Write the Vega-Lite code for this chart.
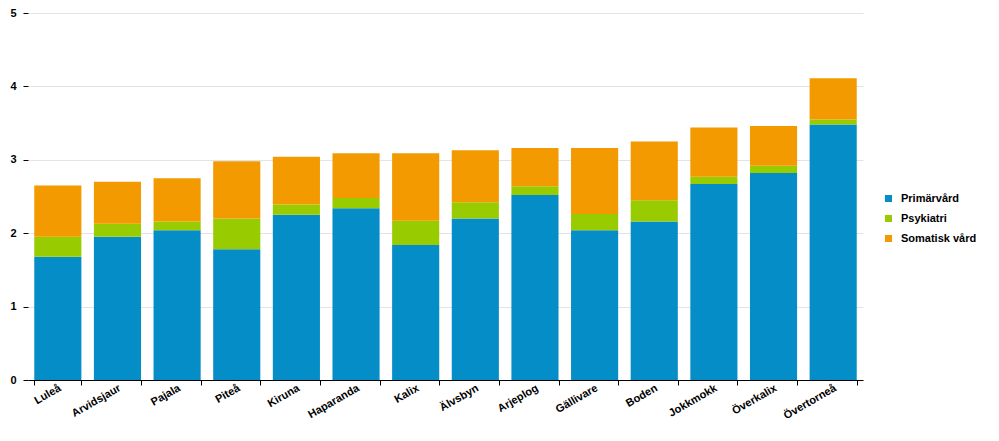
{
  "$schema": "https://vega.github.io/schema/vega-lite/v6.json",
  "width": 835,
  "height": 367,
  "autosize": {"type": "none"},
  "padding": {"left": 28, "top": 13, "right": 136, "bottom": 61},
  "background": "#ffffff",
  "config": {
    "view": {"stroke": null},
    "font": "Liberation Sans"
  },
  "data": {
    "values": [
      {"kommun": "Luleå", "typ": "Primärvård", "ord": 1, "varde": 1.68},
      {"kommun": "Luleå", "typ": "Psykiatri", "ord": 2, "varde": 0.27},
      {"kommun": "Luleå", "typ": "Somatisk vård", "ord": 3, "varde": 0.70},
      {"kommun": "Arvidsjaur", "typ": "Primärvård", "ord": 1, "varde": 1.95},
      {"kommun": "Arvidsjaur", "typ": "Psykiatri", "ord": 2, "varde": 0.18},
      {"kommun": "Arvidsjaur", "typ": "Somatisk vård", "ord": 3, "varde": 0.57},
      {"kommun": "Pajala", "typ": "Primärvård", "ord": 1, "varde": 2.04},
      {"kommun": "Pajala", "typ": "Psykiatri", "ord": 2, "varde": 0.12},
      {"kommun": "Pajala", "typ": "Somatisk vård", "ord": 3, "varde": 0.59},
      {"kommun": "Piteå", "typ": "Primärvård", "ord": 1, "varde": 1.78},
      {"kommun": "Piteå", "typ": "Psykiatri", "ord": 2, "varde": 0.42},
      {"kommun": "Piteå", "typ": "Somatisk vård", "ord": 3, "varde": 0.78},
      {"kommun": "Kiruna", "typ": "Primärvård", "ord": 1, "varde": 2.25},
      {"kommun": "Kiruna", "typ": "Psykiatri", "ord": 2, "varde": 0.14},
      {"kommun": "Kiruna", "typ": "Somatisk vård", "ord": 3, "varde": 0.65},
      {"kommun": "Haparanda", "typ": "Primärvård", "ord": 1, "varde": 2.34},
      {"kommun": "Haparanda", "typ": "Psykiatri", "ord": 2, "varde": 0.14},
      {"kommun": "Haparanda", "typ": "Somatisk vård", "ord": 3, "varde": 0.61},
      {"kommun": "Kalix", "typ": "Primärvård", "ord": 1, "varde": 1.84},
      {"kommun": "Kalix", "typ": "Psykiatri", "ord": 2, "varde": 0.33},
      {"kommun": "Kalix", "typ": "Somatisk vård", "ord": 3, "varde": 0.92},
      {"kommun": "Älvsbyn", "typ": "Primärvård", "ord": 1, "varde": 2.20},
      {"kommun": "Älvsbyn", "typ": "Psykiatri", "ord": 2, "varde": 0.22},
      {"kommun": "Älvsbyn", "typ": "Somatisk vård", "ord": 3, "varde": 0.71},
      {"kommun": "Arjeplog", "typ": "Primärvård", "ord": 1, "varde": 2.52},
      {"kommun": "Arjeplog", "typ": "Psykiatri", "ord": 2, "varde": 0.12},
      {"kommun": "Arjeplog", "typ": "Somatisk vård", "ord": 3, "varde": 0.52},
      {"kommun": "Gällivare", "typ": "Primärvård", "ord": 1, "varde": 2.04},
      {"kommun": "Gällivare", "typ": "Psykiatri", "ord": 2, "varde": 0.22},
      {"kommun": "Gällivare", "typ": "Somatisk vård", "ord": 3, "varde": 0.90},
      {"kommun": "Boden", "typ": "Primärvård", "ord": 1, "varde": 2.16},
      {"kommun": "Boden", "typ": "Psykiatri", "ord": 2, "varde": 0.29},
      {"kommun": "Boden", "typ": "Somatisk vård", "ord": 3, "varde": 0.80},
      {"kommun": "Jokkmokk", "typ": "Primärvård", "ord": 1, "varde": 2.67},
      {"kommun": "Jokkmokk", "typ": "Psykiatri", "ord": 2, "varde": 0.10},
      {"kommun": "Jokkmokk", "typ": "Somatisk vård", "ord": 3, "varde": 0.67},
      {"kommun": "Överkalix", "typ": "Primärvård", "ord": 1, "varde": 2.82},
      {"kommun": "Överkalix", "typ": "Psykiatri", "ord": 2, "varde": 0.10},
      {"kommun": "Överkalix", "typ": "Somatisk vård", "ord": 3, "varde": 0.54},
      {"kommun": "Övertorneå", "typ": "Primärvård", "ord": 1, "varde": 3.48},
      {"kommun": "Övertorneå", "typ": "Psykiatri", "ord": 2, "varde": 0.07},
      {"kommun": "Övertorneå", "typ": "Somatisk vård", "ord": 3, "varde": 0.56}
    ]
  },
  "mark": {"type": "bar"},
  "encoding": {
    "x": {
      "field": "kommun",
      "type": "nominal",
      "sort": null,
      "scale": {"paddingInner": 0.21, "paddingOuter": 0.105},
      "axis": {
        "title": null,
        "labelAngle": -30,
        "labelAlign": "right",
        "labelBaseline": "middle",
        "labelFont": "Liberation Sans",
        "labelFontWeight": "bold",
        "labelFontSize": 11,
        "labelColor": "#000000",
        "labelPadding": 2,
        "labelOffset": 2,
        "domainColor": "#000000",
        "domainWidth": 1,
        "tickColor": "#000000",
        "tickSize": 5,
        "tickBand": "extent",
        "grid": false
      }
    },
    "y": {
      "field": "varde",
      "type": "quantitative",
      "stack": "zero",
      "scale": {"domain": [0, 5], "nice": false},
      "axis": {
        "title": null,
        "values": [0, 1, 2, 3, 4, 5],
        "format": "d",
        "domain": false,
        "labelFont": "Liberation Sans",
        "labelFontWeight": "bold",
        "labelFontSize": 11,
        "labelColor": "#000000",
        "labelPadding": 7,
        "tickColor": "#000000",
        "tickSize": 5,
        "tickOffset": 0,
        "gridColor": "#e3e3e3",
        "gridWidth": 1
      }
    },
    "color": {
      "field": "typ",
      "type": "nominal",
      "scale": {
        "domain": ["Primärvård", "Psykiatri", "Somatisk vård"],
        "range": ["#058dc7", "#99cc00", "#f29a00"]
      },
      "legend": {
        "title": null,
        "orient": "none",
        "legendX": 855,
        "legendY": 180,
        "symbolType": "square",
        "symbolSize": 49,
        "symbolStrokeWidth": 0,
        "labelFont": "Liberation Sans",
        "labelFontWeight": "bold",
        "labelFontSize": 11,
        "labelColor": "#000000",
        "labelOffset": 7,
        "rowPadding": 8
      }
    },
    "order": {"field": "ord", "type": "quantitative"}
  }
}
